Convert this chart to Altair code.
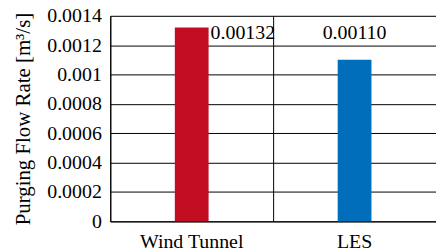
import altair as alt
import pandas as pd

categories = ["Wind Tunnel", "LES"]
values = [0.00132, 0.00110]
labels = ["0.00132", "0.00110"]
colors = ["#C30D23", "#006EBA"]
y_ticks = [0, 0.0002, 0.0004, 0.0006, 0.0008, 0.001, 0.0012, 0.0014]

df = pd.DataFrame({"cat": categories, "val": values, "label": labels, "color": colors})

FONT = "'Times New Roman', 'Liberation Serif', serif"
FS = 20

x_enc = alt.X("cat:N", sort=categories, title=None,
              scale=alt.Scale(paddingInner=0, paddingOuter=0),
              axis=alt.Axis(labelAngle=0, labelFont=FONT, labelFontSize=FS, labelColor="black",
                            grid=True, gridColor="black", gridOpacity=1, bandPosition=0,
                            ticks=False, domainColor="black", labelPadding=10))
y_enc = alt.Y("val:Q", title="Purging Flow Rate [m³/s]",
              scale=alt.Scale(domain=[0, 0.0014], nice=False),
              axis=alt.Axis(values=y_ticks, labelOverlap=False,
                            labelExpr="datum.value == 0 ? '0' : format(datum.value, '~r')",
                            labelFont=FONT, labelFontSize=FS, labelColor="black",
                            titleFont=FONT, titleFontSize=21, titleFontWeight="normal", titleColor="black",
                            grid=True, gridColor="black", gridOpacity=1, ticks=False, domainColor="black",
                            labelPadding=9, titlePadding=13))

base = alt.Chart(df).encode(x=x_enc, y=y_enc)

bars = base.mark_bar(size=34).encode(color=alt.Color("color:N", scale=None))

lab1 = base.transform_filter(alt.datum.cat == "Wind Tunnel").mark_text(
    font=FONT, fontSize=FS, align="left", baseline="top", dx=19, dy=-4, color="black"
).encode(text="label:N")

lab2 = base.transform_filter(alt.datum.cat == "LES").mark_text(
    font=FONT, fontSize=FS, align="center", baseline="alphabetic", dy=-21, color="black"
).encode(text="label:N")

chart = alt.layer(bars, lab1, lab2).properties(
    width=328, height=207,
    autosize=alt.AutoSizeParams(type="none"),
    padding={"left": 103, "top": 7, "right": 0, "bottom": 30},
).configure_view(stroke="black", strokeWidth=1).configure(background="white")

chart.save("out.html", embed_options={"renderer": "svg", "actions": False})
